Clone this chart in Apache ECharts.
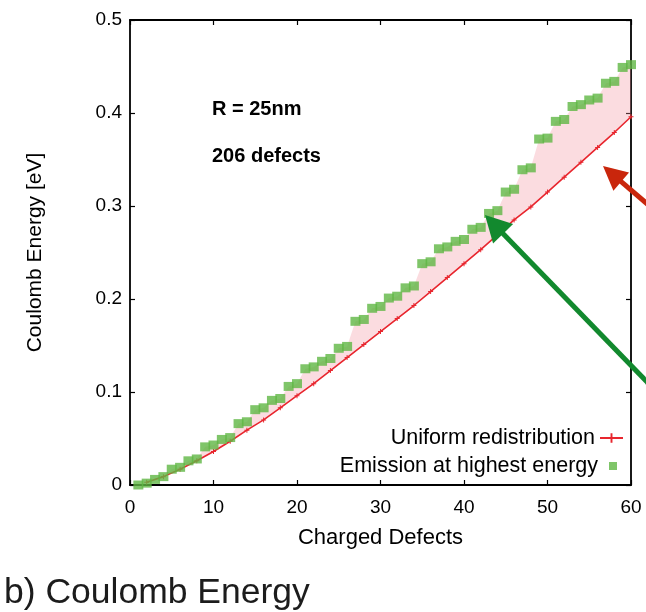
<!DOCTYPE html>
<html>
<head>
<meta charset="utf-8">
<script src="https://cdn.jsdelivr.net/npm/echarts@6/dist/echarts.min.js"></script>
<style>html,body{margin:0;padding:0;background:#fff}#c{width:646px;height:612px}</style>
</head>
<body>
<div id="c"></div>
<script>
// ---- data ----
const xTickLabels = ['0', '10', '20', '30', '40', '50', '60'];
const yTickLabels = ['0', '0.1', '0.2', '0.3', '0.4', '0.5'];

const emissionX = [1,2,3,4,5,6,7,8,9,10,11,12,13,14,15,16,17,18,19,20,
  21,22,23,24,25,26,27,28,29,30,31,32,33,34,35,36,37,38,39,40,
  41,42,43,44,45,46,47,48,49,50,51,52,53,54,55,56,57,58,59,60];
const emissionY = [0.000,0.002,0.006,0.009,0.017,0.019,0.026,0.028,0.041,0.043,
  0.049,0.051,0.066,0.068,0.081,0.083,0.091,0.093,0.106,0.109,
  0.125,0.127,0.133,0.136,0.147,0.149,0.176,0.178,0.190,0.192,
  0.201,0.203,0.212,0.214,0.238,0.240,0.254,0.256,0.262,0.264,
  0.275,0.277,0.292,0.295,0.315,0.318,0.339,0.341,0.372,0.373,
  0.391,0.393,0.407,0.409,0.414,0.416,0.432,0.434,0.449,0.452];

const uniformX = [2,4,6,8,10,12,14,16,18,20,22,24,26,28,30,
  32,34,36,38,40,42,44,46,48,50,52,54,56,58,60];
const uniformY = [0.003,0.009,0.017,0.026,0.036,0.047,0.059,0.070,0.083,0.096,
  0.109,0.123,0.137,0.151,0.165,0.179,0.193,0.208,0.223,0.238,
  0.253,0.269,0.285,0.299,0.315,0.331,0.347,0.363,0.379,0.396];

const seriesNames = ['Uniform redistribution', 'Emission at highest energy'];
const annotations = ['R = 25nm', '206 defects'];
const caption = 'b) Coulomb Energy';

// ---- chart ----
const FONT = 'Liberation Sans, Arial, sans-serif';
const chart = echarts.init(document.getElementById('c'), null, {renderer: 'canvas'});

const pairs = (xs, ys) => xs.map((x, i) => [x, ys[i]]);

function arrow(tail, tip, headLen, headW, shaftW, color) {
  const dx = tip[0] - tail[0], dy = tip[1] - tail[1];
  const len = Math.sqrt(dx * dx + dy * dy);
  const ux = dx / len, uy = dy / len, px = -uy, py = ux;
  const base = [tip[0] - ux * headLen, tip[1] - uy * headLen];
  return [
    {type: 'line', z: 100, shape: {x1: tail[0], y1: tail[1], x2: base[0] + ux * 2, y2: base[1] + uy * 2},
      style: {stroke: color, lineWidth: shaftW}},
    {type: 'polygon', z: 100, shape: {points: [tip,
      [base[0] + px * headW / 2, base[1] + py * headW / 2],
      [base[0] - px * headW / 2, base[1] - py * headW / 2]]},
      style: {fill: color}}
  ];
}

const axisCommon = {
  min: 0,
  axisLine: {show: true, onZero: false, lineStyle: {color: '#000', width: 1.8}},
  axisTick: {show: true, inside: true, length: 5, lineStyle: {color: '#000', width: 1.2}},
  splitLine: {show: false}
};

const option = {
  backgroundColor: '#fff',
  animation: false,
  grid: {left: 130, right: 15, top: 20, bottom: 127, containLabel: false},
  xAxis: [
    Object.assign({}, axisCommon, {
      type: 'value', max: 60, interval: 10, position: 'bottom',
      name: 'Charged Defects', nameLocation: 'middle', nameGap: 42,
      nameTextStyle: {fontFamily: FONT, fontSize: 22, color: '#000'},
      axisLabel: {fontFamily: FONT, fontSize: 19, color: '#000', margin: 13,
        formatter: v => xTickLabels[Math.round(v / 10)]}
    }),
    Object.assign({}, axisCommon, {
      type: 'value', max: 60, interval: 10, position: 'top',
      axisLabel: {show: false}
    })
  ],
  yAxis: [
    Object.assign({}, axisCommon, {
      type: 'value', max: 0.5, interval: 0.1, position: 'left',
      name: 'Coulomb Energy [eV]', nameLocation: 'middle', nameGap: 84,
      nameTextStyle: {fontFamily: FONT, fontSize: 21, color: '#000'},
      axisLabel: {fontFamily: FONT, fontSize: 19, color: '#000', margin: 8,
        formatter: v => yTickLabels[Math.round(v / 0.1)]}
    }),
    Object.assign({}, axisCommon, {
      type: 'value', max: 0.5, interval: 0.1, position: 'right',
      axisLabel: {show: false}
    })
  ],
  legend: [
    {data: [seriesNames[0]], right: 22, top: 427, orient: 'vertical', align: 'right',
      itemWidth: 23, itemHeight: 12, padding: 0, selectedMode: false,
      textStyle: {fontFamily: FONT, fontSize: 21.5, color: '#000'}},
    {data: [{name: seriesNames[1], icon: 'rect'}], right: 29, top: 455, orient: 'vertical', align: 'right',
      itemWidth: 8, itemHeight: 8, padding: 0, selectedMode: false,
      textStyle: {fontFamily: FONT, fontSize: 21.5, color: '#000', padding: [0, 6, 0, 0]}}
  ],
  series: [
    {
      name: 'gap', type: 'custom', z: 1, silent: true,
      data: [[0, 0]],
      clip: true,
      renderItem: function (params, api) {
        if (params.dataIndex !== 0) return;
        const pts = [];
        for (let i = 0; i < emissionX.length; i++) pts.push(api.coord([emissionX[i], emissionY[i]]));
        for (let i = uniformX.length - 1; i >= 0; i--) pts.push(api.coord([uniformX[i], uniformY[i]]));
        return {type: 'polygon', shape: {points: pts},
          style: {fill: 'rgba(244,150,160,0.33)', stroke: 'none'}};
      }
    },
    {
      name: seriesNames[0], type: 'line', z: 3,
      data: pairs(uniformX, uniformY),
      symbol: 'path://M2,0H3V2H5V3H3V5H2V3H0V2H2Z', symbolSize: 5,
      showSymbol: true,
      lineStyle: {color: '#e8262e', width: 1.6},
      itemStyle: {color: '#e8262e'}
    },
    {
      name: seriesNames[1], type: 'scatter', z: 4,
      data: pairs(emissionX, emissionY),
      symbol: 'rect', symbolSize: [10, 9],
      itemStyle: {color: '#5fb743'}
    }
  ],
  graphic: [
    {type: 'text', left: 212, top: 99, z: 50,
      style: {text: annotations[0], font: 'bold 20px ' + FONT, fill: '#000'}},
    {type: 'text', left: 212, top: 146, z: 50,
      style: {text: annotations[1], font: 'bold 20px ' + FONT, fill: '#000'}},
    {type: 'text', left: 4, top: 575, z: 50,
      style: {text: caption, font: '35.5px ' + FONT, fill: '#1c1c1c'}}
  ].concat(
    arrow([652, 208], [603, 166], 24, 24, 5, '#c9260c'),
    arrow([652, 387], [485, 215], 26, 28, 5, '#12892e')
  )
};
chart.setOption(option);
</script>
</body>
</html>
